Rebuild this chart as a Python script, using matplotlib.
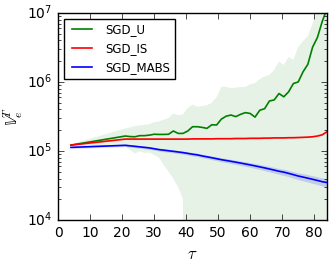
import matplotlib
matplotlib.use('Agg')
import matplotlib.pyplot as plt
import numpy as np

plt.style.use('classic')
plt.rcParams['font.family'] = 'DejaVu Sans'
plt.rcParams['font.size'] = 10
plt.rcParams['figure.facecolor'] = 'white'
plt.rcParams['savefig.facecolor'] = 'white'

# iteration axis
tau = [4, 21, 22.5, 24, 25.5, 27, 28.5, 30, 31.5, 33, 34.5, 36, 37.5, 39, 40.5,
       42, 43.5, 45, 46.5, 48, 49.5, 51, 52.5, 54, 55.5, 57, 58.5, 60, 61.5,
       63, 64.5, 66, 67.5, 69, 70.5, 72, 73.5, 75, 76.5, 78, 79.5, 81, 82.5, 84]

# SGD_U mean and mean+std
u_mean = [1.22e5, 1.65e5, 1.62e5, 1.61e5, 1.67e5, 1.67e5, 1.70e5, 1.75e5, 1.74e5,
          1.74e5, 1.75e5, 1.95e5, 1.80e5, 1.80e5, 1.95e5, 2.25e5, 2.25e5, 2.20e5,
          2.13e5, 2.40e5, 2.38e5, 2.90e5, 3.20e5, 3.32e5, 3.15e5, 3.40e5, 3.60e5,
          3.50e5, 3.10e5, 3.90e5, 4.10e5, 5.30e5, 5.50e5, 6.80e5, 6.10e5, 7.20e5,
          9.50e5, 1.0e6, 1.4e6, 1.8e6, 3.2e6, 4.4e6, 7.5e6, 1.15e7]
u_upper = [1.25e5, 2.13e5, 2.20e5, 2.30e5, 2.35e5, 2.40e5, 2.45e5, 2.62e5, 2.68e5,
           2.85e5, 3.00e5, 3.50e5, 3.30e5, 3.40e5, 4.20e5, 4.70e5, 4.37e5, 4.50e5,
           4.60e5, 5.00e5, 6.00e5, 8.50e5, 8.50e5, 8.10e5, 8.30e5, 8.40e5, 8.50e5,
           9.30e5, 9.60e5, 1.1e6, 1.2e6, 1.27e6, 1.5e6, 1.97e6, 1.76e6, 2.3e6,
           2.1e6, 3.2e6, 3.9e6, 4.6e6, 7.0e6, 1.2e7, 2.0e7, 3.0e7]

# SGD_IS
is_mean = [1.22e5, 1.49e5, 1.49e5, 1.49e5, 1.49e5, 1.49e5, 1.49e5, 1.49e5, 1.49e5,
           1.49e5, 1.49e5, 1.49e5, 1.49e5, 1.49e5, 1.49e5, 1.50e5, 1.50e5, 1.50e5,
           1.50e5, 1.50e5, 1.51e5, 1.51e5, 1.51e5, 1.51e5, 1.52e5, 1.52e5, 1.52e5,
           1.53e5, 1.53e5, 1.53e5, 1.54e5, 1.54e5, 1.55e5, 1.55e5, 1.55e5, 1.56e5,
           1.56e5, 1.57e5, 1.58e5, 1.59e5, 1.61e5, 1.65e5, 1.72e5, 1.90e5]
is_std = [2e3, 3e3, 3e3, 3e3, 3e3, 3e3, 3e3, 3e3, 3e3, 3e3, 3e3, 3e3, 3e3, 3e3, 3e3,
          3e3, 3e3, 3e3, 3e3, 3e3, 3e3, 3e3, 3e3, 3e3, 3e3, 3e3, 3e3, 3e3, 3e3,
          3e3, 3e3, 3e3, 3e3, 3e3, 3e3, 3e3, 3e3, 3e3, 3e3, 3e3, 3e3, 3e3, 4e3, 5e3]

# SGD_MABS
mabs_mean = [1.13e5, 1.21e5, 1.19e5, 1.17e5, 1.15e5, 1.13e5, 1.11e5, 1.08e5, 1.05e5,
             1.03e5, 1.01e5, 9.9e4, 9.7e4, 9.5e4, 9.25e4, 9.0e4, 8.8e4, 8.5e4,
             8.25e4, 8.0e4, 7.75e4, 7.5e4, 7.3e4, 7.1e4, 6.9e4, 6.7e4, 6.5e4,
             6.3e4, 6.1e4, 5.9e4, 5.7e4, 5.5e4, 5.3e4, 5.1e4, 4.95e4, 4.75e4,
             4.55e4, 4.35e4, 4.2e4, 4.05e4, 3.9e4, 3.75e4, 3.6e4, 3.5e4]
mabs_std = [4e3, 5e3, 5e3, 5e3, 5e3, 5e3, 5e3, 5e3, 5e3, 5e3, 5e3, 5e3, 5e3, 5e3,
            5e3, 5e3, 5e3, 5e3, 5e3, 5e3, 5e3, 5e3, 5e3, 5e3, 5e3, 5e3, 5e3, 5e3,
            5e3, 5e3, 5e3, 5e3, 5e3, 5e3, 5e3, 5e3, 5e3, 5e3, 5e3, 5e3, 5e3, 4.8e3,
            4.8e3, 4.8e3]

x = np.array(tau)
u_m = np.array(u_mean)
u_s = np.array(u_upper) - u_m
i_m = np.array(is_mean)
i_s = np.array(is_std)
m_m = np.array(mabs_mean)
m_s = np.array(mabs_std)

fig = plt.figure(figsize=(3.32, 2.63), dpi=100)
ax = fig.add_axes([0.175, 0.163, 0.81, 0.788])

ax.fill_between(x, u_m - u_s, u_m + u_s, color='g', alpha=0.1, lw=0)
ax.fill_between(x, i_m - i_s, i_m + i_s, color='r', alpha=0.1, lw=0)
ax.fill_between(x, m_m - m_s, m_m + m_s, color='b', alpha=0.15, lw=0)
ax.plot(x, u_m, color='g', lw=1.2, label='SGD_U')
ax.plot(x, i_m, color='r', lw=1.2, label='SGD_IS')
ax.plot(x, m_m, color='b', lw=1.2, label='SGD_MABS')

ax.set_yscale('log')
ax.set_xlim(0, 84)
ax.set_ylim(1e4, 1e7)
ax.set_xticks([0, 10, 20, 30, 40, 50, 60, 70, 80])
ax.set_xlabel(r'$\tau$', fontsize=12)
ax.xaxis.set_label_coords(0.5, -0.12)
ax.set_ylabel(r'$\mathbb{V}_e^T$', fontsize=12, va='center')
ax.yaxis.set_label_coords(-0.165, 0.5)
ax.legend(loc='upper left', fontsize=8.5, handlelength=2.3)

fig.savefig('out.png', dpi=100)
